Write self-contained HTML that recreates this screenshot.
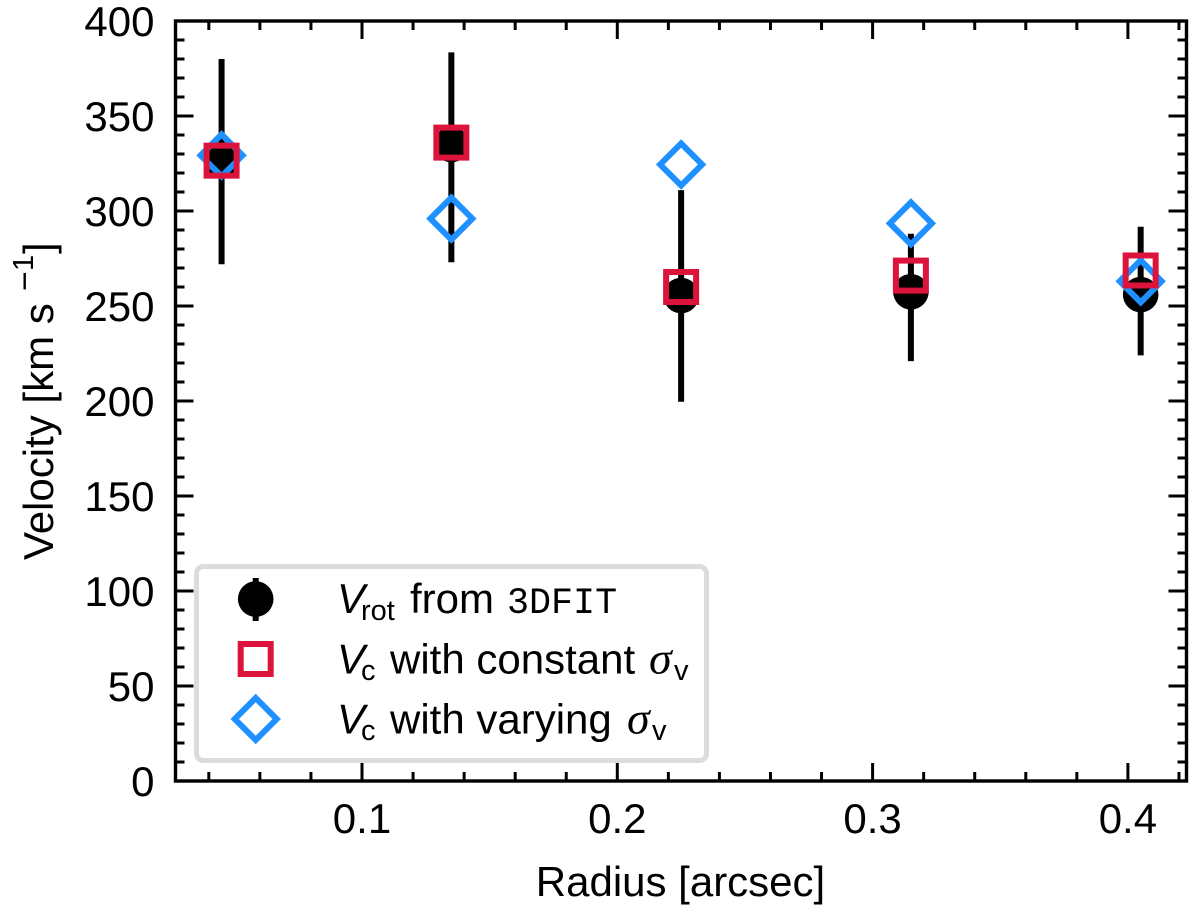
<!DOCTYPE html>
<html>
<head>
<meta charset="utf-8">
<title>Velocity vs Radius</title>
<style>
html,body{margin:0;padding:0;background:#fff;width:1200px;height:916px;overflow:hidden}
svg{display:block}
text{font-family:"Liberation Sans",sans-serif;fill:#000}
</style>
</head>
<body>
<svg id="chart" width="1200" height="916" viewBox="0 0 1200 916" xmlns="http://www.w3.org/2000/svg">
  <g id="ticks"></g>
  <g id="xlabels"></g>
  <g id="ylabels"></g>
  <g id="series-vrot"></g>
  <g id="series-diamond"></g>
  <g id="series-square"></g>
  <rect x="175.5" y="21" width="1011" height="760" fill="none" stroke="#000" stroke-width="3.4"/>
  <text x="680.5" y="896" font-size="42" text-anchor="middle">Radius [arcsec]</text>
  <text transform="rotate(-90)" font-size="42"><tspan x="-560" y="53">Velocity [km s</tspan><tspan x="-291" y="36" font-size="34">−</tspan><tspan x="-271" y="33" font-size="29">1</tspan><tspan x="-254" y="53">]</tspan></text>
  <g>
    <rect x="196.5" y="566.5" width="510" height="194" rx="7" ry="7" fill="#fff" stroke="#dcdcdc" stroke-width="5"/>
    <g>
      <line x1="255.7" x2="255.7" y1="578" y2="621" stroke="#000" stroke-width="6"/>
      <circle cx="255.7" cy="599" r="17.8" fill="#000"/>
      <text y="613" font-size="42"><tspan x="337" font-style="italic">V</tspan><tspan x="361" y="620" font-size="29">rot</tspan><tspan x="410" y="613">from</tspan><tspan x="507" font-family="'Liberation Mono',monospace" font-size="36.7">3DFIT</tspan></text>
    </g>
    <g>
      <rect x="240.7" y="644" width="30" height="30" fill="none" stroke="#dc143c" stroke-width="6"/>
      <text y="673.5" font-size="42"><tspan x="337" font-style="italic">V</tspan><tspan x="361" y="680" font-size="29">c</tspan><tspan x="390" y="673.5">with constant</tspan><tspan x="649" font-family="'Liberation Serif',serif" font-style="italic" font-size="46">σ</tspan><tspan x="674" y="680" font-size="29">v</tspan></text>
    </g>
    <g>
      <path d="M255.7 698 L276.7 719 L255.7 740 L234.7 719 Z" fill="none" stroke="#1e90ff" stroke-width="6"/>
      <text y="733.5" font-size="42"><tspan x="337" font-style="italic">V</tspan><tspan x="361" y="740" font-size="29">c</tspan><tspan x="390" y="733.5">with varying</tspan><tspan x="627" font-family="'Liberation Serif',serif" font-style="italic" font-size="46">σ</tspan><tspan x="652" y="740" font-size="29">v</tspan></text>
    </g>
  </g>
</svg>
<script>
var radius = [0.045, 0.135, 0.225, 0.315, 0.405];
var vrot = [327, 335, 255.5, 257.5, 256];
var vrotLow = [272, 273, 199.6, 221, 224];
var vrotHigh = [380, 383.5, 311, 288, 291.7];
var vcConstant = [326.5, 336, 260, 266, 268.7];
var vcVarying = [329.3, 296, 324.5, 293.5, 263];
var xMajorTicks = [0.1, 0.2, 0.3, 0.4];
var xMinorTicks = [0.04, 0.06, 0.08, 0.12, 0.14, 0.16, 0.18, 0.22, 0.24, 0.26, 0.28, 0.32, 0.34, 0.36, 0.38, 0.42];
var yMajorTicks = [0, 50, 100, 150, 200, 250, 300, 350, 400];
var yMinorTicks = [10, 20, 30, 40, 60, 70, 80, 90, 110, 120, 130, 140, 160, 170, 180, 190, 210, 220, 230, 240, 260, 270, 280, 290, 310, 320, 330, 340, 360, 370, 380, 390];

var NS = 'http://www.w3.org/2000/svg';
var LEFT = 175.5, RIGHT = 1186.5, TOP = 21, BOTTOM = 781;
function xScale(v) { return 362 + (v - 0.1) * 2553; }
function yScale(v) { return BOTTOM - v * 1.9; }
function make(tag, attrs, parent) {
  var el = document.createElementNS(NS, tag);
  for (var k in attrs) el.setAttribute(k, attrs[k]);
  parent.appendChild(el);
  return el;
}
var tickGroup = document.getElementById('ticks');
function drawXTick(v, len, name) {
  var x = xScale(v);
  var a = make('line', {x1: x, x2: x, y1: BOTTOM, y2: BOTTOM - len, stroke: '#000', 'stroke-width': 3}, tickGroup);
  
  
  var b = make('line', {x1: x, x2: x, y1: TOP, y2: TOP + len, stroke: '#000', 'stroke-width': 3}, tickGroup);
  
  
}
function drawYTick(v, len, name) {
  var y = yScale(v);
  var a = make('line', {x1: LEFT, x2: LEFT + len, y1: y, y2: y, stroke: '#000', 'stroke-width': 3}, tickGroup);
  
  
  var b = make('line', {x1: RIGHT, x2: RIGHT - len, y1: y, y2: y, stroke: '#000', 'stroke-width': 3}, tickGroup);
  
  
}
xMinorTicks.forEach(function (v) { drawXTick(v, 9, 'x-minor-tick'); });
xMajorTicks.forEach(function (v) { drawXTick(v, 18, 'x-major-tick'); });
yMinorTicks.forEach(function (v) { drawYTick(v, 9, 'y-minor-tick'); });
yMajorTicks.forEach(function (v) { drawYTick(v, 18, 'y-major-tick'); });

var xLabelGroup = document.getElementById('xlabels');
xMajorTicks.forEach(function (v) {
  var t = make('text', {x: xScale(v), y: 833, 'font-size': 42, 'text-anchor': 'middle'}, xLabelGroup);
  
  
  t.textContent = v.toFixed(1);
});
var yLabelGroup = document.getElementById('ylabels');
yMajorTicks.forEach(function (v) {
  var t = make('text', {x: 154.5, y: yScale(v) + 15, 'font-size': 42, 'text-anchor': 'end'}, yLabelGroup);
  
  
  t.textContent = String(v);
});

var vrotGroup = document.getElementById('series-vrot');
radius.forEach(function (r, i) {
  var bar = make('line', {x1: xScale(r), x2: xScale(r), y1: yScale(vrotLow[i]), y2: yScale(vrotHigh[i]), stroke: '#000', 'stroke-width': 6}, vrotGroup);
  
  
  var dot = make('circle', {cx: xScale(r), cy: yScale(vrot[i]), r: 17.8, fill: '#000'}, vrotGroup);
  
  
});
var diamondGroup = document.getElementById('series-diamond');
radius.forEach(function (r, i) {
  var x = xScale(r), y = yScale(vcVarying[i]), h = 21;
  var d = make('path', {d: 'M' + x + ' ' + (y - h) + ' L' + (x + h) + ' ' + y + ' L' + x + ' ' + (y + h) + ' L' + (x - h) + ' ' + y + ' Z', fill: 'none', stroke: '#1e90ff', 'stroke-width': 6}, diamondGroup);
  
  
});
var squareGroup = document.getElementById('series-square');
radius.forEach(function (r, i) {
  var s = make('rect', {x: xScale(r) - 15, y: yScale(vcConstant[i]) - 15, width: 30, height: 30, fill: 'none', stroke: '#dc143c', 'stroke-width': 6}, squareGroup);
  
  
});
</script>
</body>
</html>
